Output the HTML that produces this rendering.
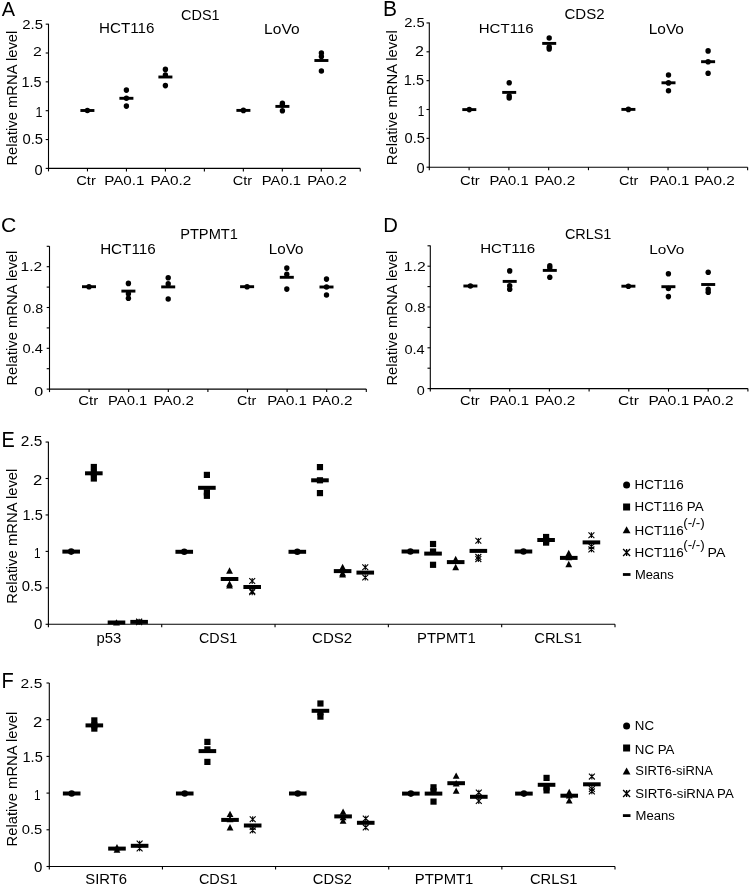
<!DOCTYPE html>
<html><head><meta charset="utf-8"><style>
html,body{margin:0;padding:0;background:#fff;}
svg{display:block;filter:grayscale(1);}
text{font-family:"Liberation Sans", sans-serif;fill:#000;}
line{stroke:#000;}
.st{fill:none;stroke:#000;}
</style></head><body>
<svg width="750" height="886" viewBox="0 0 750 886">
<rect width="750" height="886" fill="#fff"/>
<text font-size="20.95" transform="translate(1.75 16) scale(0.9513 1)">A</text>
<text font-size="13.85" transform="translate(181.08 19.66) scale(1.0450 1)">CDS1</text>
<text font-size="14.13" transform="translate(99.05 33.36) scale(1.0746 1)">HCT116</text>
<text font-size="13.91" transform="translate(264.12 33.56) scale(1.1165 1)">LoVo</text>
<text font-size="14.29" transform="translate(17.26 165.62) rotate(-90) scale(1.0377 1)">Relative mRNA level</text>
<line x1="48.5" y1="23.8" x2="48.5" y2="168.95" stroke-width="1.1"/>
<line x1="45.7" y1="168.4" x2="48.5" y2="168.4" stroke-width="1.1"/>
<line x1="45.7" y1="139.55" x2="48.5" y2="139.55" stroke-width="1.1"/>
<line x1="45.7" y1="110.7" x2="48.5" y2="110.7" stroke-width="1.1"/>
<line x1="45.7" y1="81.85" x2="48.5" y2="81.85" stroke-width="1.1"/>
<line x1="45.7" y1="53" x2="48.5" y2="53" stroke-width="1.1"/>
<line x1="45.7" y1="24.15" x2="48.5" y2="24.15" stroke-width="1.1"/>
<line x1="47.95" y1="168.4" x2="360.26" y2="168.4" stroke-width="1.1"/>
<line x1="48.5" y1="168.4" x2="48.5" y2="171.4" stroke-width="1.1"/>
<line x1="87.47" y1="168.4" x2="87.47" y2="171.4" stroke-width="1.1"/>
<line x1="126.44" y1="168.4" x2="126.44" y2="171.4" stroke-width="1.1"/>
<line x1="165.41" y1="168.4" x2="165.41" y2="171.4" stroke-width="1.1"/>
<line x1="204.38" y1="168.4" x2="204.38" y2="171.4" stroke-width="1.1"/>
<line x1="243.35" y1="168.4" x2="243.35" y2="171.4" stroke-width="1.1"/>
<line x1="282.32" y1="168.4" x2="282.32" y2="171.4" stroke-width="1.1"/>
<line x1="321.29" y1="168.4" x2="321.29" y2="171.4" stroke-width="1.1"/>
<line x1="360.26" y1="168.4" x2="360.26" y2="171.4" stroke-width="1.1"/>
<text font-size="13.29" transform="translate(22.25 29.47) scale(1.1232 1)">2.5</text>
<text font-size="13.05" transform="translate(33.01 56) scale(1.2129 1)">2</text>
<text font-size="14.05" transform="translate(21.41 87.06) scale(1.0327 1)">1.5</text>
<text font-size="14.25" transform="translate(35.56 117.1) scale(0.8759 1)">1</text>
<text font-size="13.71" transform="translate(22.41 143.56) scale(1.0802 1)">0.5</text>
<text font-size="13.71" transform="translate(34.61 175.16) scale(1.0693 1)">0</text>
<text font-size="13.43" transform="translate(76.16 185.07) scale(1.0987 1)">Ctr</text>
<text font-size="13.43" transform="translate(104.25 185.07) scale(1.1289 1)">PA0.1</text>
<text font-size="13.43" transform="translate(150.53 185.07) scale(1.1448 1)">PA0.2</text>
<text font-size="13.43" transform="translate(232.67 185.07) scale(1.0811 1)">Ctr</text>
<text font-size="13.43" transform="translate(261.78 185.07) scale(1.1023 1)">PA0.1</text>
<text font-size="13.43" transform="translate(307.27 185.07) scale(1.1093 1)">PA0.2</text>
<ellipse cx="87.4" cy="110.5" rx="2.7" ry="2.8"/>
<rect x="80.4" y="109.05" width="14" height="2.9"/>
<ellipse cx="126.4" cy="90.1" rx="2.7" ry="2.8"/>
<ellipse cx="126.4" cy="98.2" rx="2.7" ry="2.8"/>
<ellipse cx="126.4" cy="106.1" rx="2.7" ry="2.8"/>
<rect x="119.4" y="96.85" width="14" height="2.9"/>
<ellipse cx="165.4" cy="69.4" rx="2.7" ry="2.8"/>
<ellipse cx="165.4" cy="75" rx="2.7" ry="2.8"/>
<ellipse cx="165.4" cy="85.6" rx="2.7" ry="2.8"/>
<rect x="158.4" y="75.55" width="14" height="2.9"/>
<ellipse cx="243.4" cy="110.4" rx="2.7" ry="2.8"/>
<rect x="236.4" y="108.95" width="14" height="2.9"/>
<ellipse cx="282.4" cy="103.4" rx="2.7" ry="2.8"/>
<ellipse cx="282.4" cy="105" rx="2.7" ry="2.8"/>
<ellipse cx="282.4" cy="110.8" rx="2.7" ry="2.8"/>
<rect x="275.4" y="104.95" width="14" height="2.9"/>
<ellipse cx="321.4" cy="53" rx="2.7" ry="2.8"/>
<ellipse cx="321.4" cy="56.6" rx="2.7" ry="2.8"/>
<ellipse cx="321.4" cy="71" rx="2.7" ry="2.8"/>
<rect x="314.4" y="59.05" width="14" height="2.9"/>
<text font-size="21.24" transform="translate(383.06 16) scale(0.9904 1)">B</text>
<text font-size="13.85" transform="translate(564.45 19.46) scale(1.0854 1)">CDS2</text>
<text font-size="13.57" transform="translate(478.76 33.46) scale(1.1089 1)">HCT116</text>
<text font-size="13.91" transform="translate(648.73 33.86) scale(1.1099 1)">LoVo</text>
<text font-size="14.01" transform="translate(397.06 165.22) rotate(-90) scale(1.0586 1)">Relative mRNA level</text>
<line x1="429.3" y1="22.6" x2="429.3" y2="167.75" stroke-width="1.1"/>
<line x1="426.5" y1="167.2" x2="429.3" y2="167.2" stroke-width="1.1"/>
<line x1="426.5" y1="138.35" x2="429.3" y2="138.35" stroke-width="1.1"/>
<line x1="426.5" y1="109.5" x2="429.3" y2="109.5" stroke-width="1.1"/>
<line x1="426.5" y1="80.65" x2="429.3" y2="80.65" stroke-width="1.1"/>
<line x1="426.5" y1="51.8" x2="429.3" y2="51.8" stroke-width="1.1"/>
<line x1="426.5" y1="22.95" x2="429.3" y2="22.95" stroke-width="1.1"/>
<line x1="428.75" y1="167.2" x2="747.62" y2="167.2" stroke-width="1.1"/>
<line x1="429.3" y1="167.2" x2="429.3" y2="170.2" stroke-width="1.1"/>
<line x1="469.09" y1="167.2" x2="469.09" y2="170.2" stroke-width="1.1"/>
<line x1="508.88" y1="167.2" x2="508.88" y2="170.2" stroke-width="1.1"/>
<line x1="548.67" y1="167.2" x2="548.67" y2="170.2" stroke-width="1.1"/>
<line x1="588.46" y1="167.2" x2="588.46" y2="170.2" stroke-width="1.1"/>
<line x1="628.25" y1="167.2" x2="628.25" y2="170.2" stroke-width="1.1"/>
<line x1="668.04" y1="167.2" x2="668.04" y2="170.2" stroke-width="1.1"/>
<line x1="707.83" y1="167.2" x2="707.83" y2="170.2" stroke-width="1.1"/>
<line x1="747.62" y1="167.2" x2="747.62" y2="170.2" stroke-width="1.1"/>
<text font-size="13.43" transform="translate(404.16 26.87) scale(1.0999 1)">2.5</text>
<text font-size="13.91" transform="translate(415.1 55.5) scale(1.1537 1)">2</text>
<text font-size="14.05" transform="translate(403.81 85.26) scale(1.0327 1)">1.5</text>
<text font-size="14.55" transform="translate(417.82 115.7) scale(0.8107 1)">1</text>
<text font-size="14.13" transform="translate(404.51 143.16) scale(1.0369 1)">0.5</text>
<text font-size="13.71" transform="translate(416.51 173.36) scale(1.0693 1)">0</text>
<text font-size="13.43" transform="translate(459.96 185.07) scale(1.1046 1)">Ctr</text>
<text font-size="13.43" transform="translate(489.48 185.07) scale(1.1023 1)">PA0.1</text>
<text font-size="13.43" transform="translate(534.54 185.07) scale(1.1419 1)">PA0.2</text>
<text font-size="13.43" transform="translate(618.98 185.07) scale(1.0752 1)">Ctr</text>
<text font-size="13.43" transform="translate(649.56 185.07) scale(1.1230 1)">PA0.1</text>
<text font-size="13.43" transform="translate(694.24 185.07) scale(1.1419 1)">PA0.2</text>
<ellipse cx="469.3" cy="109.6" rx="2.7" ry="2.8"/>
<rect x="462.3" y="108.15" width="14" height="2.9"/>
<ellipse cx="509.2" cy="82.8" rx="2.7" ry="2.8"/>
<ellipse cx="509.2" cy="96" rx="2.7" ry="2.8"/>
<ellipse cx="509.2" cy="98" rx="2.7" ry="2.8"/>
<rect x="502.2" y="90.95" width="14" height="2.9"/>
<ellipse cx="549.2" cy="38" rx="2.7" ry="2.8"/>
<ellipse cx="549.2" cy="47" rx="2.7" ry="2.8"/>
<ellipse cx="549.2" cy="48.9" rx="2.7" ry="2.8"/>
<rect x="542.2" y="41.95" width="14" height="2.9"/>
<ellipse cx="628.4" cy="109.4" rx="2.7" ry="2.8"/>
<rect x="621.4" y="107.95" width="14" height="2.9"/>
<ellipse cx="668.5" cy="75" rx="2.7" ry="2.8"/>
<ellipse cx="668.5" cy="82.9" rx="2.7" ry="2.8"/>
<ellipse cx="668.5" cy="90.7" rx="2.7" ry="2.8"/>
<rect x="661.5" y="81.35" width="14" height="2.9"/>
<ellipse cx="708.1" cy="50.9" rx="2.7" ry="2.8"/>
<ellipse cx="708.1" cy="61.7" rx="2.7" ry="2.8"/>
<ellipse cx="708.1" cy="73.3" rx="2.7" ry="2.8"/>
<rect x="701.1" y="60.25" width="14" height="2.9"/>
<text font-size="20.92" transform="translate(0.94 231.59) scale(1.0128 1)">C</text>
<text font-size="13.82" transform="translate(180.19 238.6) scale(1.0592 1)">PTPMT1</text>
<text font-size="14.13" transform="translate(100.14 253.86) scale(1.0766 1)">HCT116</text>
<text font-size="14.19" transform="translate(268.75 254.06) scale(1.0711 1)">LoVo</text>
<text font-size="14.29" transform="translate(17.26 385.62) rotate(-90) scale(1.0377 1)">Relative mRNA level</text>
<line x1="49.5" y1="246.2" x2="49.5" y2="389.65" stroke-width="1.1"/>
<line x1="46.7" y1="389.1" x2="49.5" y2="389.1" stroke-width="1.1"/>
<line x1="46.7" y1="368.7" x2="49.5" y2="368.7" stroke-width="1.1"/>
<line x1="46.7" y1="348.3" x2="49.5" y2="348.3" stroke-width="1.1"/>
<line x1="46.7" y1="327.9" x2="49.5" y2="327.9" stroke-width="1.1"/>
<line x1="46.7" y1="307.5" x2="49.5" y2="307.5" stroke-width="1.1"/>
<line x1="46.7" y1="287.1" x2="49.5" y2="287.1" stroke-width="1.1"/>
<line x1="46.7" y1="266.7" x2="49.5" y2="266.7" stroke-width="1.1"/>
<line x1="46.7" y1="246.3" x2="49.5" y2="246.3" stroke-width="1.1"/>
<line x1="48.95" y1="389.1" x2="366.3" y2="389.1" stroke-width="1.1"/>
<line x1="49.5" y1="389.1" x2="49.5" y2="392.1" stroke-width="1.1"/>
<line x1="89.1" y1="389.1" x2="89.1" y2="392.1" stroke-width="1.1"/>
<line x1="128.7" y1="389.1" x2="128.7" y2="392.1" stroke-width="1.1"/>
<line x1="168.3" y1="389.1" x2="168.3" y2="392.1" stroke-width="1.1"/>
<line x1="207.9" y1="389.1" x2="207.9" y2="392.1" stroke-width="1.1"/>
<line x1="247.5" y1="389.1" x2="247.5" y2="392.1" stroke-width="1.1"/>
<line x1="287.1" y1="389.1" x2="287.1" y2="392.1" stroke-width="1.1"/>
<line x1="326.7" y1="389.1" x2="326.7" y2="392.1" stroke-width="1.1"/>
<line x1="366.3" y1="389.1" x2="366.3" y2="392.1" stroke-width="1.1"/>
<text font-size="13.62" transform="translate(20.53 270.6) scale(1.1434 1)">1.2</text>
<text font-size="13.43" transform="translate(23.33 312.77) scale(1.0651 1)">0.8</text>
<text font-size="13" transform="translate(22.51 353.17) scale(1.1339 1)">0.4</text>
<text font-size="13.43" transform="translate(34.25 395.67) scale(1.2009 1)">0</text>
<text font-size="13" transform="translate(78.25 405.07) scale(1.1528 1)">Ctr</text>
<text font-size="13" transform="translate(108.08 405.07) scale(1.1413 1)">PA0.1</text>
<text font-size="13" transform="translate(153.54 405.07) scale(1.1730 1)">PA0.2</text>
<text font-size="13" transform="translate(237.08 405.07) scale(1.1042 1)">Ctr</text>
<text font-size="13" transform="translate(267.16 405.07) scale(1.1535 1)">PA0.1</text>
<text font-size="13" transform="translate(311.94 405.07) scale(1.1761 1)">PA0.2</text>
<ellipse cx="89" cy="286.7" rx="2.7" ry="2.8"/>
<rect x="82" y="285.25" width="14" height="2.9"/>
<ellipse cx="128.4" cy="283.4" rx="2.7" ry="2.8"/>
<ellipse cx="128.4" cy="293.8" rx="2.7" ry="2.8"/>
<ellipse cx="128.4" cy="298.2" rx="2.7" ry="2.8"/>
<rect x="121.4" y="289.65" width="14" height="2.9"/>
<ellipse cx="168.2" cy="277.8" rx="2.7" ry="2.8"/>
<ellipse cx="168.2" cy="283.9" rx="2.7" ry="2.8"/>
<ellipse cx="168.2" cy="299" rx="2.7" ry="2.8"/>
<rect x="161.2" y="285.45" width="14" height="2.9"/>
<ellipse cx="247.1" cy="286.7" rx="2.7" ry="2.8"/>
<rect x="240.1" y="285.25" width="14" height="2.9"/>
<ellipse cx="286.8" cy="268.1" rx="2.7" ry="2.8"/>
<ellipse cx="286.8" cy="274.3" rx="2.7" ry="2.8"/>
<ellipse cx="286.8" cy="289.1" rx="2.7" ry="2.8"/>
<rect x="279.8" y="275.85" width="14" height="2.9"/>
<ellipse cx="326.5" cy="279.1" rx="2.7" ry="2.8"/>
<ellipse cx="326.5" cy="287" rx="2.7" ry="2.8"/>
<ellipse cx="326.5" cy="295" rx="2.7" ry="2.8"/>
<rect x="319.5" y="285.55" width="14" height="2.9"/>
<text font-size="20.95" transform="translate(383.13 231.8) scale(0.9669 1)">D</text>
<text font-size="13.85" transform="translate(564.88 238.76) scale(1.0419 1)">CRLS1</text>
<text font-size="13.57" transform="translate(480.15 253.46) scale(1.1131 1)">HCT116</text>
<text font-size="13.48" transform="translate(649.13 254.17) scale(1.1418 1)">LoVo</text>
<text font-size="14.29" transform="translate(397.26 385.62) rotate(-90) scale(1.0377 1)">Relative mRNA level</text>
<line x1="430.3" y1="245.5" x2="430.3" y2="389.15" stroke-width="1.1"/>
<line x1="427.5" y1="388.6" x2="430.3" y2="388.6" stroke-width="1.1"/>
<line x1="427.5" y1="368.2" x2="430.3" y2="368.2" stroke-width="1.1"/>
<line x1="427.5" y1="347.8" x2="430.3" y2="347.8" stroke-width="1.1"/>
<line x1="427.5" y1="327.4" x2="430.3" y2="327.4" stroke-width="1.1"/>
<line x1="427.5" y1="307" x2="430.3" y2="307" stroke-width="1.1"/>
<line x1="427.5" y1="286.6" x2="430.3" y2="286.6" stroke-width="1.1"/>
<line x1="427.5" y1="266.2" x2="430.3" y2="266.2" stroke-width="1.1"/>
<line x1="427.5" y1="245.8" x2="430.3" y2="245.8" stroke-width="1.1"/>
<line x1="429.75" y1="388.6" x2="747.9" y2="388.6" stroke-width="1.1"/>
<line x1="430.3" y1="388.6" x2="430.3" y2="391.6" stroke-width="1.1"/>
<line x1="470" y1="388.6" x2="470" y2="391.6" stroke-width="1.1"/>
<line x1="509.7" y1="388.6" x2="509.7" y2="391.6" stroke-width="1.1"/>
<line x1="549.4" y1="388.6" x2="549.4" y2="391.6" stroke-width="1.1"/>
<line x1="589.1" y1="388.6" x2="589.1" y2="391.6" stroke-width="1.1"/>
<line x1="628.8" y1="388.6" x2="628.8" y2="391.6" stroke-width="1.1"/>
<line x1="668.5" y1="388.6" x2="668.5" y2="391.6" stroke-width="1.1"/>
<line x1="708.2" y1="388.6" x2="708.2" y2="391.6" stroke-width="1.1"/>
<line x1="747.9" y1="388.6" x2="747.9" y2="391.6" stroke-width="1.1"/>
<text font-size="13.33" transform="translate(403.82 270.5) scale(1.1798 1)">1.2</text>
<text font-size="13.57" transform="translate(404.8 312.26) scale(1.0991 1)">0.8</text>
<text font-size="13.14" transform="translate(404.42 353.87) scale(1.1102 1)">0.4</text>
<text font-size="13.14" transform="translate(416.82 395.17) scale(1.0993 1)">0</text>
<text font-size="13" transform="translate(460.07 404.87) scale(1.1285 1)">Ctr</text>
<text font-size="13" transform="translate(489.47 404.87) scale(1.1505 1)">PA0.1</text>
<text font-size="13" transform="translate(534.74 404.87) scale(1.1791 1)">PA0.2</text>
<text font-size="13" transform="translate(618.02 404.87) scale(1.2013 1)">Ctr</text>
<text font-size="13" transform="translate(648.43 404.87) scale(1.1871 1)">PA0.1</text>
<text font-size="13" transform="translate(692.83 404.87) scale(1.1852 1)">PA0.2</text>
<ellipse cx="470.4" cy="286" rx="2.7" ry="2.8"/>
<rect x="463.4" y="284.55" width="14" height="2.9"/>
<ellipse cx="509.7" cy="270.9" rx="2.7" ry="2.8"/>
<ellipse cx="509.7" cy="285.7" rx="2.7" ry="2.8"/>
<ellipse cx="509.7" cy="289.2" rx="2.7" ry="2.8"/>
<rect x="502.7" y="279.95" width="14" height="2.9"/>
<ellipse cx="549.8" cy="265.8" rx="2.7" ry="2.8"/>
<ellipse cx="549.8" cy="267.8" rx="2.7" ry="2.8"/>
<ellipse cx="549.8" cy="277.2" rx="2.7" ry="2.8"/>
<rect x="542.8" y="268.95" width="14" height="2.9"/>
<ellipse cx="628.4" cy="286.2" rx="2.7" ry="2.8"/>
<rect x="621.4" y="284.75" width="14" height="2.9"/>
<ellipse cx="668.4" cy="273.8" rx="2.7" ry="2.8"/>
<ellipse cx="668.4" cy="288.5" rx="2.7" ry="2.8"/>
<ellipse cx="668.4" cy="296.6" rx="2.7" ry="2.8"/>
<rect x="661.4" y="285.25" width="14" height="2.9"/>
<ellipse cx="708.2" cy="272.3" rx="2.7" ry="2.8"/>
<ellipse cx="708.2" cy="289.4" rx="2.7" ry="2.8"/>
<ellipse cx="708.2" cy="292.2" rx="2.7" ry="2.8"/>
<rect x="701.2" y="283.05" width="14" height="2.9"/>
<text font-size="21.53" transform="translate(1.56 446.6) scale(0.9248 1)">E</text>
<text font-size="14.42" transform="translate(17.46 603.82) rotate(-90) scale(1.0295 1)">Relative mRNA level</text>
<line x1="48.4" y1="441.8" x2="48.4" y2="624.85" stroke-width="1.1"/>
<line x1="45.6" y1="624.3" x2="48.4" y2="624.3" stroke-width="1.1"/>
<line x1="45.6" y1="587.85" x2="48.4" y2="587.85" stroke-width="1.1"/>
<line x1="45.6" y1="551.4" x2="48.4" y2="551.4" stroke-width="1.1"/>
<line x1="45.6" y1="514.95" x2="48.4" y2="514.95" stroke-width="1.1"/>
<line x1="45.6" y1="478.5" x2="48.4" y2="478.5" stroke-width="1.1"/>
<line x1="45.6" y1="442.05" x2="48.4" y2="442.05" stroke-width="1.1"/>
<line x1="47.85" y1="624.3" x2="615" y2="624.3" stroke-width="1.1"/>
<line x1="48.4" y1="624.3" x2="48.4" y2="627.3" stroke-width="1.1"/>
<line x1="161.72" y1="624.3" x2="161.72" y2="627.3" stroke-width="1.1"/>
<line x1="275.04" y1="624.3" x2="275.04" y2="627.3" stroke-width="1.1"/>
<line x1="388.36" y1="624.3" x2="388.36" y2="627.3" stroke-width="1.1"/>
<line x1="501.68" y1="624.3" x2="501.68" y2="627.3" stroke-width="1.1"/>
<line x1="615" y1="624.3" x2="615" y2="627.3" stroke-width="1.1"/>
<text font-size="13.99" transform="translate(20.83 446.06) scale(1.1050 1)">2.5</text>
<text font-size="14.34" transform="translate(32.96 484.9) scale(1.1651 1)">2</text>
<text font-size="13.76" transform="translate(22.51 520.46) scale(1.0599 1)">1.5</text>
<text font-size="14.98" transform="translate(34.02 558) scale(0.7871 1)">1</text>
<text font-size="13.99" transform="translate(21.71 591.06) scale(1.0583 1)">0.5</text>
<text font-size="13.99" transform="translate(34.1 628.86) scale(1.0776 1)">0</text>
<text font-size="14.84" transform="translate(96.53 642.65) scale(1.0021 1)">p53</text>
<text font-size="14.84" transform="translate(198.98 642.65) scale(0.9648 1)">CDS1</text>
<text font-size="14.84" transform="translate(312.05 642.65) scale(1.0156 1)">CDS2</text>
<text font-size="15.27" transform="translate(417.07 642.8) scale(0.9738 1)">PTPMT1</text>
<text font-size="14.84" transform="translate(534.26 642.65) scale(0.9962 1)">CRLS1</text>
<ellipse cx="71.18" cy="551.6" rx="3.2" ry="3.3"/>
<rect x="62.38" y="549.6" width="17.6" height="4"/>
<rect x="90.73" y="463.9" width="6.2" height="6.2"/>
<rect x="90.73" y="469.9" width="6.2" height="6.2"/>
<rect x="90.73" y="475.4" width="6.2" height="6.2"/>
<rect x="85.03" y="471.3" width="17.6" height="4"/>
<path d="M116.48 619.2L119.88 625.6L113.08 625.6Z"/>
<rect x="107.68" y="620.5" width="17.6" height="4"/>
<path class="st" d="M136.18 618.7L142.07 624.5M136.18 624.5L142.07 618.7M139.12 618.7L139.12 624.5" stroke-width="1.1"/>
<path class="st" d="M136.18 619.3L142.07 625.1M136.18 625.1L142.07 619.3M139.12 619.3L139.12 625.1" stroke-width="1.1"/>
<rect x="130.32" y="619.9" width="17.6" height="4"/>
<ellipse cx="184.25" cy="551.8" rx="3.2" ry="3.3"/>
<rect x="175.44" y="549.8" width="17.6" height="4"/>
<rect x="203.8" y="471.8" width="6.2" height="6.2"/>
<rect x="203.8" y="489.3" width="6.2" height="6.2"/>
<rect x="203.8" y="492.7" width="6.2" height="6.2"/>
<rect x="198.09" y="485.8" width="17.6" height="4"/>
<path d="M229.54 567.3L232.94 573.7L226.14 573.7Z"/>
<path d="M229.54 580.4L232.94 586.8L226.14 586.8Z"/>
<path d="M229.54 582L232.94 588.4L226.14 588.4Z"/>
<rect x="220.74" y="577" width="17.6" height="4"/>
<path class="st" d="M249.25 578.1L255.14 583.9M249.25 583.9L255.14 578.1M252.19 578.1L252.19 583.9" stroke-width="1.1"/>
<path class="st" d="M249.25 588.4L255.14 594.2M249.25 594.2L255.14 588.4M252.19 588.4L252.19 594.2" stroke-width="1.1"/>
<path class="st" d="M249.25 589.4L255.14 595.2M249.25 595.2L255.14 589.4M252.19 589.4L252.19 595.2" stroke-width="1.1"/>
<rect x="243.39" y="585" width="17.6" height="4"/>
<ellipse cx="297.31" cy="551.8" rx="3.2" ry="3.3"/>
<rect x="288.51" y="549.8" width="17.6" height="4"/>
<rect x="316.86" y="464" width="6.2" height="6.2"/>
<rect x="316.86" y="477.2" width="6.2" height="6.2"/>
<rect x="316.86" y="490" width="6.2" height="6.2"/>
<rect x="311.16" y="478.3" width="17.6" height="4"/>
<path d="M342.61 563.8L346.01 570.2L339.21 570.2Z"/>
<path d="M342.61 569.8L346.01 576.2L339.21 576.2Z"/>
<path d="M342.61 571L346.01 577.4L339.21 577.4Z"/>
<rect x="333.81" y="569.1" width="17.6" height="4"/>
<path class="st" d="M362.31 564.3L368.21 570.1M362.31 570.1L368.21 564.3M365.26 564.3L365.26 570.1" stroke-width="1.1"/>
<path class="st" d="M362.31 574.6L368.21 580.4M362.31 580.4L368.21 574.6M365.26 574.6L365.26 580.4" stroke-width="1.1"/>
<rect x="356.46" y="570.6" width="17.6" height="4"/>
<ellipse cx="410.38" cy="551.5" rx="3.2" ry="3.3"/>
<rect x="401.58" y="549.5" width="17.6" height="4"/>
<rect x="429.94" y="540.9" width="6.2" height="6.2"/>
<rect x="429.94" y="548.4" width="6.2" height="6.2"/>
<rect x="429.94" y="561.7" width="6.2" height="6.2"/>
<rect x="424.24" y="551.6" width="17.6" height="4"/>
<path d="M455.69 555.8L459.08 562.2L452.29 562.2Z"/>
<path d="M455.69 557.3L459.08 563.7L452.29 563.7Z"/>
<path d="M455.69 563.8L459.08 570.2L452.29 570.2Z"/>
<rect x="446.88" y="560.1" width="17.6" height="4"/>
<path class="st" d="M475.39 537.9L481.29 543.7M475.39 543.7L481.29 537.9M478.34 537.9L478.34 543.7" stroke-width="1.1"/>
<path class="st" d="M475.39 554L481.29 559.8M475.39 559.8L481.29 554M478.34 554L478.34 559.8" stroke-width="1.1"/>
<path class="st" d="M475.39 556.2L481.29 562M475.39 562L481.29 556.2M478.34 556.2L478.34 562" stroke-width="1.1"/>
<rect x="469.54" y="548.9" width="17.6" height="4"/>
<ellipse cx="523.45" cy="551.5" rx="3.2" ry="3.3"/>
<rect x="514.65" y="549.5" width="17.6" height="4"/>
<rect x="543" y="533.9" width="6.2" height="6.2"/>
<rect x="543" y="537.4" width="6.2" height="6.2"/>
<rect x="543" y="539.5" width="6.2" height="6.2"/>
<rect x="537.3" y="538" width="17.6" height="4"/>
<path d="M568.75 549.8L572.15 556.2L565.36 556.2Z"/>
<path d="M568.75 553.8L572.15 560.2L565.36 560.2Z"/>
<path d="M568.75 560.8L572.15 567.2L565.36 567.2Z"/>
<rect x="559.96" y="555.9" width="17.6" height="4"/>
<path class="st" d="M588.45 532.3L594.36 538.1M588.45 538.1L594.36 532.3M591.4 532.3L591.4 538.1" stroke-width="1.1"/>
<path class="st" d="M588.45 543.6L594.36 549.4M588.45 549.4L594.36 543.6M591.4 543.6L591.4 549.4" stroke-width="1.1"/>
<path class="st" d="M588.45 546.5L594.36 552.3M588.45 552.3L594.36 546.5M591.4 546.5L591.4 552.3" stroke-width="1.1"/>
<rect x="582.61" y="540.4" width="17.6" height="4"/>
<text font-size="21.53" transform="translate(1.54 687.6) scale(0.9338 1)">F</text>
<text font-size="14.42" transform="translate(17.46 846.52) rotate(-90) scale(1.0264 1)">Relative mRNA level</text>
<line x1="49.3" y1="683" x2="49.3" y2="867.05" stroke-width="1.1"/>
<line x1="46.5" y1="866.5" x2="49.3" y2="866.5" stroke-width="1.1"/>
<line x1="46.5" y1="829.8" x2="49.3" y2="829.8" stroke-width="1.1"/>
<line x1="46.5" y1="793.1" x2="49.3" y2="793.1" stroke-width="1.1"/>
<line x1="46.5" y1="756.4" x2="49.3" y2="756.4" stroke-width="1.1"/>
<line x1="46.5" y1="719.7" x2="49.3" y2="719.7" stroke-width="1.1"/>
<line x1="46.5" y1="683" x2="49.3" y2="683" stroke-width="1.1"/>
<line x1="48.75" y1="866.5" x2="615" y2="866.5" stroke-width="1.1"/>
<line x1="49.3" y1="866.5" x2="49.3" y2="869.5" stroke-width="1.1"/>
<line x1="162.44" y1="866.5" x2="162.44" y2="869.5" stroke-width="1.1"/>
<line x1="275.58" y1="866.5" x2="275.58" y2="869.5" stroke-width="1.1"/>
<line x1="388.72" y1="866.5" x2="388.72" y2="869.5" stroke-width="1.1"/>
<line x1="501.86" y1="866.5" x2="501.86" y2="869.5" stroke-width="1.1"/>
<line x1="615" y1="866.5" x2="615" y2="869.5" stroke-width="1.1"/>
<text font-size="13.71" transform="translate(20.62 688.46) scale(1.1390 1)">2.5</text>
<text font-size="14.19" transform="translate(32.96 727.1) scale(1.1768 1)">2</text>
<text font-size="14.77" transform="translate(22.51 762.45) scale(0.9879 1)">1.5</text>
<text font-size="13.96" transform="translate(34.02 800.1) scale(0.8445 1)">1</text>
<text font-size="13.57" transform="translate(21.71 833.76) scale(1.0914 1)">0.5</text>
<text font-size="14.13" transform="translate(34.1 871.56) scale(1.0668 1)">0</text>
<text font-size="13.85" transform="translate(85.33 884.26) scale(1.0720 1)">SIRT6</text>
<text font-size="13.85" transform="translate(198.88 884.26) scale(1.0450 1)">CDS1</text>
<text font-size="13.85" transform="translate(312.87 884.26) scale(1.0601 1)">CDS2</text>
<text font-size="14.25" transform="translate(414.77 884.4) scale(1.0433 1)">PTPMT1</text>
<text font-size="13.85" transform="translate(529.96 884.26) scale(1.0627 1)">CRLS1</text>
<ellipse cx="71.68" cy="793.5" rx="3.2" ry="3.3"/>
<rect x="62.88" y="791.5" width="17.6" height="4"/>
<rect x="91.23" y="717.3" width="6.2" height="6.2"/>
<rect x="91.23" y="722.3" width="6.2" height="6.2"/>
<rect x="91.23" y="725.5" width="6.2" height="6.2"/>
<rect x="85.53" y="723.4" width="17.6" height="4"/>
<path d="M116.98 844L120.38 850.4L113.58 850.4Z"/>
<path d="M116.98 846.4L120.38 852.8L113.58 852.8Z"/>
<rect x="108.18" y="846.6" width="17.6" height="4"/>
<path class="st" d="M136.68 840.7L142.57 846.5M136.68 846.5L142.57 840.7M139.62 840.7L139.62 846.5" stroke-width="1.1"/>
<path class="st" d="M136.68 845.5L142.57 851.3M136.68 851.3L142.57 845.5M139.62 845.5L139.62 851.3" stroke-width="1.1"/>
<rect x="130.82" y="843.8" width="17.6" height="4"/>
<ellipse cx="184.74" cy="793.5" rx="3.2" ry="3.3"/>
<rect x="175.94" y="791.5" width="17.6" height="4"/>
<rect x="204.29" y="738.8" width="6.2" height="6.2"/>
<rect x="204.29" y="746.3" width="6.2" height="6.2"/>
<rect x="204.29" y="758.8" width="6.2" height="6.2"/>
<rect x="198.59" y="749.1" width="17.6" height="4"/>
<path d="M230.03 810.7L233.44 817.1L226.63 817.1Z"/>
<path d="M230.03 815.8L233.44 822.2L226.63 822.2Z"/>
<path d="M230.03 824L233.44 830.4L226.63 830.4Z"/>
<rect x="221.23" y="817.9" width="17.6" height="4"/>
<path class="st" d="M249.74 816.3L255.63 822.1M249.74 822.1L255.63 816.3M252.69 816.3L252.69 822.1" stroke-width="1.1"/>
<path class="st" d="M249.74 824.1L255.63 829.9M249.74 829.9L255.63 824.1M252.69 824.1L252.69 829.9" stroke-width="1.1"/>
<path class="st" d="M249.74 827.5L255.63 833.3M249.74 833.3L255.63 827.5M252.69 827.5L252.69 833.3" stroke-width="1.1"/>
<rect x="243.88" y="823.5" width="17.6" height="4"/>
<ellipse cx="297.79" cy="793.5" rx="3.2" ry="3.3"/>
<rect x="288.99" y="791.5" width="17.6" height="4"/>
<rect x="317.34" y="700.4" width="6.2" height="6.2"/>
<rect x="317.34" y="709.1" width="6.2" height="6.2"/>
<rect x="317.34" y="713.5" width="6.2" height="6.2"/>
<rect x="311.64" y="708.8" width="17.6" height="4"/>
<path d="M343.09 808.4L346.49 814.8L339.69 814.8Z"/>
<path d="M343.09 813.8L346.49 820.2L339.69 820.2Z"/>
<path d="M343.09 817.4L346.49 823.8L339.69 823.8Z"/>
<rect x="334.29" y="814.4" width="17.6" height="4"/>
<path class="st" d="M362.8 815.7L368.69 821.5M362.8 821.5L368.69 815.7M365.75 815.7L365.75 821.5" stroke-width="1.1"/>
<path class="st" d="M362.8 824.5L368.69 830.3M362.8 830.3L368.69 824.5M365.75 824.5L365.75 830.3" stroke-width="1.1"/>
<rect x="356.94" y="820.8" width="17.6" height="4"/>
<ellipse cx="410.86" cy="793.6" rx="3.2" ry="3.3"/>
<rect x="402.06" y="791.6" width="17.6" height="4"/>
<rect x="430.41" y="784.2" width="6.2" height="6.2"/>
<rect x="430.41" y="788.1" width="6.2" height="6.2"/>
<rect x="430.41" y="798.5" width="6.2" height="6.2"/>
<rect x="424.71" y="791.6" width="17.6" height="4"/>
<path d="M456.16 772.4L459.56 778.8L452.76 778.8Z"/>
<path d="M456.16 780L459.56 786.4L452.76 786.4Z"/>
<path d="M456.16 787.4L459.56 793.8L452.76 793.8Z"/>
<rect x="447.36" y="781.2" width="17.6" height="4"/>
<path class="st" d="M475.86 789.7L481.76 795.5M475.86 795.5L481.76 789.7M478.81 789.7L478.81 795.5" stroke-width="1.1"/>
<path class="st" d="M475.86 798.1L481.76 803.9M475.86 803.9L481.76 798.1M478.81 798.1L478.81 803.9" stroke-width="1.1"/>
<rect x="470.01" y="794.8" width="17.6" height="4"/>
<ellipse cx="523.91" cy="793.6" rx="3.2" ry="3.3"/>
<rect x="515.12" y="791.6" width="17.6" height="4"/>
<rect x="543.46" y="774.8" width="6.2" height="6.2"/>
<rect x="543.46" y="784.3" width="6.2" height="6.2"/>
<rect x="543.46" y="787.3" width="6.2" height="6.2"/>
<rect x="537.76" y="782.8" width="17.6" height="4"/>
<path d="M569.22 788.8L572.62 795.2L565.82 795.2Z"/>
<path d="M569.22 792.2L572.62 798.6L565.82 798.6Z"/>
<path d="M569.22 797.2L572.62 803.6L565.82 803.6Z"/>
<rect x="560.42" y="793.7" width="17.6" height="4"/>
<path class="st" d="M588.91 773.7L594.82 779.5M588.91 779.5L594.82 773.7M591.87 773.7L591.87 779.5" stroke-width="1.1"/>
<path class="st" d="M588.91 786.1L594.82 791.9M588.91 791.9L594.82 786.1M591.87 786.1L591.87 791.9" stroke-width="1.1"/>
<path class="st" d="M588.91 788.5L594.82 794.3M588.91 794.3L594.82 788.5M591.87 788.5L591.87 794.3" stroke-width="1.1"/>
<rect x="583.07" y="782.3" width="17.6" height="4"/>
<ellipse cx="626.6" cy="484.9" rx="3.5" ry="3.5"/>
<text font-size="13" transform="translate(634.49 489.47) scale(1.0370 1)">HCT116</text>
<rect x="623.1" y="503.5" width="7" height="7"/>
<text font-size="12.16" transform="translate(634.5 510.88) scale(1.0980 1)">HCT116 PA</text>
<path d="M626.6 526.3L630.5 533.3L622.7 533.3Z"/>
<text font-size="13" transform="translate(634.49 534.87) scale(1.0370 1)">HCT116</text>
<path class="st" d="M623.1 548.9L630.1 555.9M623.1 555.9L630.1 548.9M626.6 548.9L626.6 555.9" stroke-width="1.35"/>
<text font-size="12.58" transform="translate(634.49 556.57) scale(1.0720 1)">HCT116</text>
<text font-size="12.95" transform="translate(707.53 556.7) scale(1.0913 1)">PA</text>
<rect x="622.9" y="573.1" width="7.6" height="2.8"/>
<text font-size="12.76" transform="translate(634.93 579.17) scale(1.0133 1)">Means</text>
<ellipse cx="626.6" cy="726" rx="3.5" ry="3.5"/>
<text font-size="12.86" transform="translate(634.8 729.97) scale(1.0347 1)">NC</text>
<rect x="623.1" y="744.5" width="7" height="7"/>
<text font-size="13.29" transform="translate(634.8 753.67) scale(1.0001 1)">NC PA</text>
<path d="M626.6 767.5L630.5 774.5L622.7 774.5Z"/>
<text font-size="12.65" transform="translate(635.32 775.47) scale(1.0254 1)">SIRT6-siRNA</text>
<path class="st" d="M623.1 790L630.1 797M623.1 797L630.1 790M626.6 790L626.6 797" stroke-width="1.35"/>
<text font-size="12.38" transform="translate(635.31 797.68) scale(1.0660 1)">SIRT6-siRNA PA</text>
<rect x="622.9" y="814.2" width="7.6" height="2.8"/>
<text font-size="13.05" transform="translate(635.52 819.67) scale(1.0016 1)">Means</text>
<text font-size="13.3" transform="translate(683.16 526.84) scale(1.0128 1)">(-/-)</text>
<text font-size="13.3" transform="translate(683.16 548.84) scale(1.0128 1)">(-/-)</text>
</svg>
</body></html>
